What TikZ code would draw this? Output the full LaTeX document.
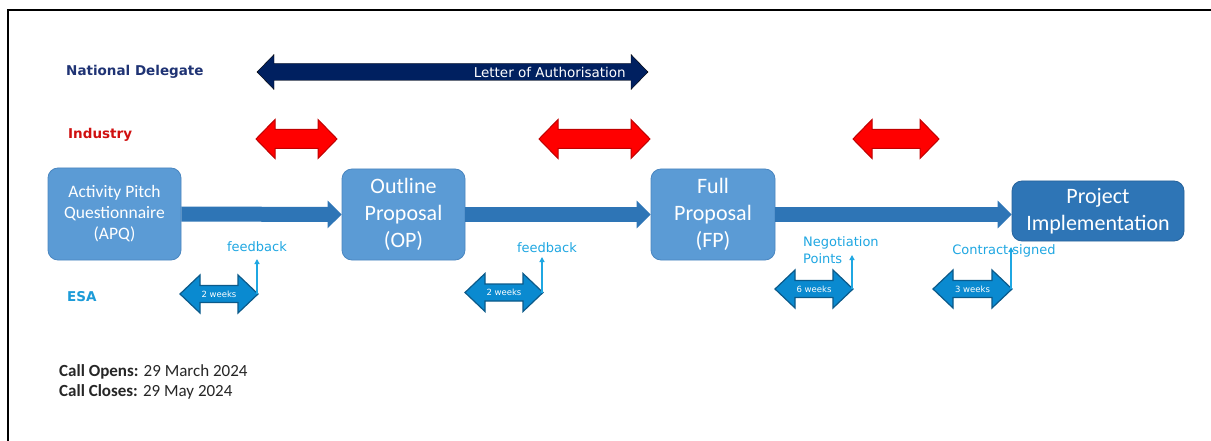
\documentclass[tikz,border=0pt]{standalone}
\usepackage{fontspec}
\setmainfont{Carlito}
\newfontfamily\verd{DejaVu Sans}
\usetikzlibrary{arrows.meta}

\definecolor{navy}{HTML}{002060}
\definecolor{navytext}{HTML}{1F3374}
\definecolor{indedge}{HTML}{C00000}
\definecolor{indlabel}{HTML}{D01010}
\definecolor{boxblue}{HTML}{5B9BD5}
\definecolor{boxedge}{HTML}{4A86C0}
\definecolor{flowblue}{HTML}{2E75B6}
\definecolor{esablue}{HTML}{0A8AD0}
\definecolor{esaedge}{HTML}{0B5A8A}
\definecolor{esalabel}{HTML}{1C9BD8}
\definecolor{fbblue}{HTML}{1FA7E2}

% double headed block arrow: style, name, x left, x right, y, shaft half, head half, head length
\newcommand{\twoway}[8]{%
  \draw[#1] (#3,#5) -- (#3+#8,#5-#7) -- (#3+#8,#5-#6) -- (#4-#8,#5-#6) -- (#4-#8,#5-#7) -- (#4,#5)
    -- (#4-#8,#5+#7) -- (#4-#8,#5+#6) -- (#3+#8,#5+#6) -- (#3+#8,#5+#7) -- cycle;
  \coordinate (#2-l) at (#3,#5);
  \coordinate (#2-r) at (#4,#5);
}

\tikzset{
  role/.style={anchor=west, inner sep=0pt, font=\verd\bfseries\fontsize{13.5}{16}\selectfont},
  stage/.style={rounded corners=10pt, fill=boxblue, draw=boxedge, line width=0.8pt, text=white,
    align=center, inner sep=0pt, font=\fontsize{22}{27}\selectfont},
  flow/.style={draw=flowblue, line width=15pt, -{Triangle[width=27pt,length=14pt]}},
  industry/.style={fill=red, draw=indedge, line width=1pt},
  esa/.style={fill=esablue, draw=esaedge, line width=1.2pt},
  weeks/.style={text=white, inner sep=0pt, font=\verd\fontsize{8.5}{10}\selectfont},
  fbtext/.style={text=fbblue, inner sep=0pt, font=\verd\fontsize{13}{17}\selectfont},
  fb/.style={draw=fbblue, line width=1.2pt, -{Triangle[width=5pt,length=5pt]}}
}

\begin{document}
\begin{tikzpicture}[x=1pt,y=-1pt]
\useasboundingbox (0,0) rectangle (1211,441);
\fill[white] (0,0) rectangle (1211,441);
\draw[line width=1.5pt] (8,441) -- (8,10) -- (1211,10);

% roles
\node[role, text=navytext] (nd) at (66,72) {National Delegate};
\node[role, text=indlabel] (ind) at (68,135) {Industry};
\node[role, text=esalabel] (esa) at (67,297) {ESA};

% national delegate
\twoway{fill=navy}{loa}{257}{648}{72}{8.5}{17.5}{17}
\node[anchor=east, text=white, inner sep=0pt, font=\verd\fontsize{13.5}{16}\selectfont] (loatext) at (626,72) {Letter of Authorisation};

% industry
\foreach \xa/\xb [count=\i] in {256/337,539/650,853/939}
  {\twoway{industry}{ind\i}{\xa}{\xb}{139}{9.5}{19.5}{19}}

% stages
\node[stage, minimum width=133, minimum height=92, font=\fontsize{17.5}{21}\selectfont] (apq) at (114.5,214) {Activity Pitch\\Questionnaire\\(APQ)};
\node[stage, minimum width=123, minimum height=91] (op) at (403.5,214.5) {Outline\\Proposal\\(OP)};
\node[stage, minimum width=124, minimum height=91] (fp) at (713,214.5) {Full\\Proposal\\(FP)};
\node[stage, fill=flowblue, draw=flowblue!85!black, minimum width=172, minimum height=60] (pi) at (1098,211) {Project\\Implementation};

\draw[flow] (apq.east) -- (op.west);
\draw[flow] (op.east) -- (fp.west);
\draw[flow] (fp.east) -- (fp.east -| pi.west);

% esa
\node[fbtext] (fb1) at (257,247) {feedback};
\node[fbtext] (fb2) at (547,248) {feedback};
\node[fbtext, anchor=west, align=left] (np) at (803,250.5) {Negotiation\\Points};
\node[fbtext] (cs) at (1004,251) {Contract signed};

\foreach \xa/\xb/\yy/\wk/\yt [count=\i] in {180/258/294/2/259, 465/543/292.5/2/257, 775/853/289/6/255, 933/1012/289/3/247}
{
  \twoway{esa}{e\i}{\xa}{\xb}{\yy}{8.5}{19}{20}
  \node[weeks] (w\i) at ({(\xa+\xb)/2},\yy) {\wk\ weeks};
  \coordinate (up\i) at (\xb-1,\yt);
  \draw[fb] (\xb-1,\yy) -- (up\i);
}

% dates
\node[anchor=west, align=left, inner sep=0pt, text=black!85, font=\fontsize{17}{20}\selectfont] (call) at (59,382)
  {\textbf{Call Opens:} 29 March 2024\\\textbf{Call Closes:} 29 May 2024};

\end{tikzpicture}
\end{document}
